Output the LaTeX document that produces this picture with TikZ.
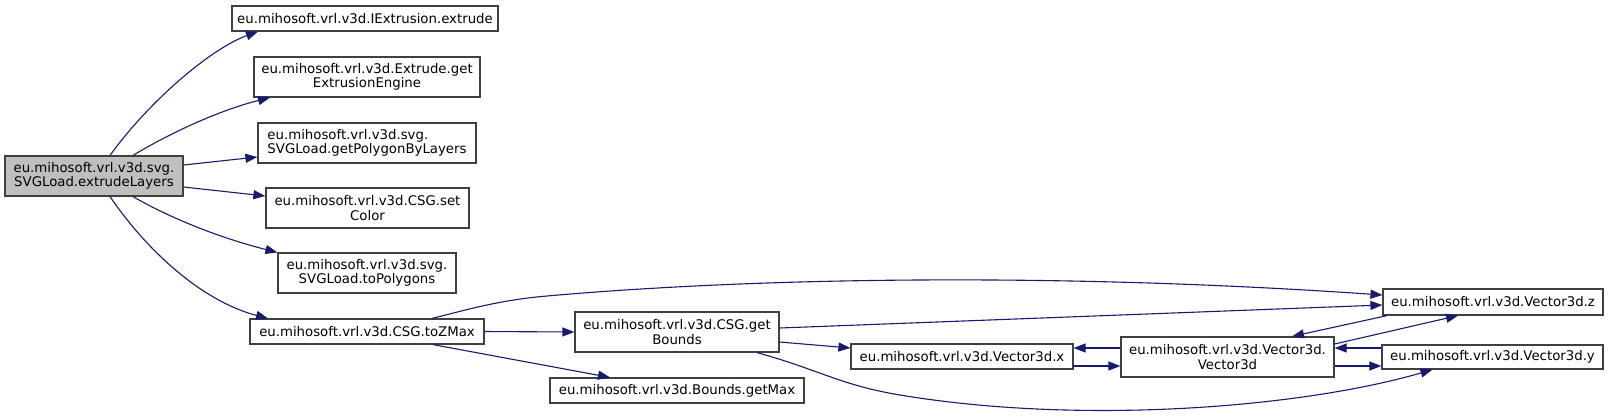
\documentclass[tikz,border=0pt]{standalone}
\usepackage{fontspec}
\setmainfont{DejaVu Sans}
\usetikzlibrary{arrows.meta}
\definecolor{edgeblue}{HTML}{191970}
\definecolor{boxline}{HTML}{404040}
\definecolor{rootfill}{HTML}{BFBFBF}
\begin{document}
\begin{tikzpicture}[x=1pt,y=-1pt,
  fn/.style={draw=boxline,line width=1.2pt,fill=white,inner sep=0pt,align=center,
    font=\fontsize{13.3}{14.5}\selectfont,minimum height=25pt},
  rootbox/.style={fn,fill=rootfill},
  call/.style={draw=edgeblue,line width=1.1pt,-{Triangle[length=12pt,width=9pt]},fill=none}]
\useasboundingbox (0,0) rectangle (1609,416);
\node[rootbox,minimum width=178pt,minimum height=40pt] (root) at (94,176) {eu.mihosoft.vrl.v3d.svg.\\SVGLoad.extrudeLayers};
\node[fn,minimum width=266pt] (n1) at (365,18.5) {eu.mihosoft.vrl.v3d.IExtrusion.extrude};
\node[fn,minimum width=226pt,minimum height=40pt] (n2) at (367,77) {eu.mihosoft.vrl.v3d.Extrude.get\\ExtrusionEngine};
\node[fn,minimum width=218pt,minimum height=40pt,align=left] (n3) at (367,143) {eu.mihosoft.vrl.v3d.svg.\\SVGLoad.getPolygonByLayers};
\node[fn,minimum width=203pt,minimum height=40pt] (n4) at (367.5,208) {eu.mihosoft.vrl.v3d.CSG.set\\Color};
\node[fn,minimum width=178pt,minimum height=40pt] (n5) at (367,273) {eu.mihosoft.vrl.v3d.svg.\\SVGLoad.toPolygons};
\node[fn,minimum width=234pt] (n6) at (367,331.5) {eu.mihosoft.vrl.v3d.CSG.toZMax};
\node[fn,minimum width=204pt,minimum height=40pt] (n7) at (677,332) {eu.mihosoft.vrl.v3d.CSG.get\\Bounds};
\node[fn,minimum width=254pt] (n8) at (677,390.5) {eu.mihosoft.vrl.v3d.Bounds.getMax};
\node[fn,minimum width=222pt] (n9) at (962,356.5) {eu.mihosoft.vrl.v3d.Vector3d.x};
\node[fn,minimum width=213pt,minimum height=40pt] (n10) at (1227.5,357) {eu.mihosoft.vrl.v3d.Vector3d.\\Vector3d};
\node[fn,minimum width=220pt,minimum height=26pt] (n11) at (1493,302) {eu.mihosoft.vrl.v3d.Vector3d.z};
\node[fn,minimum width=221pt,minimum height=24pt] (n12) at (1492.5,357) {eu.mihosoft.vrl.v3d.Vector3d.y};
% edges from root
\draw[call] ([xshift=16pt]root.north) .. controls (150,100) and (212,48) .. ([xshift=-107pt]n1.south);
\draw[call] ([xshift=39pt]root.north) .. controls (170,133) and (220,110) .. ([xshift=-97pt]n2.south);
\draw[call] ([yshift=11pt]root.east) -- ([yshift=-14pt]n3.west);
\draw[call] ([yshift=-11pt]root.east) -- ([yshift=12pt]n4.west);
\draw[call] ([xshift=39pt]root.south) .. controls (170,218) and (220,238) .. (n5.north west);
\draw[call] ([xshift=16pt]root.south) .. controls (150,255) and (205,302) .. ([xshift=-99pt]n6.north);
% edges from toZMax
\draw[call] (n6.east) -- (n7.west);
\draw[call] ([xshift=66pt]n6.south) -- ([xshift=-67pt]n8.north);
\draw[call] ([xshift=65pt]n6.north) .. controls (470,309) and (500,300) .. (547,296) .. controls (750,278) and (1050,272) .. ([yshift=7pt]n11.west);
% edges from getBounds
\draw[call] ([yshift=4pt]n7.east) -- ([yshift=-3pt]n11.west);
\draw[call] ([yshift=-10pt]n7.east) -- ([yshift=8.5pt]n9.west);
\draw[call] ([xshift=80pt]n7.south) .. controls (820,370) and (840,385) .. (900,395) .. controls (1080,425) and (1300,408) .. ([xshift=-60pt]n12.south);
% Vector3d edges
\draw[call] ([yshift=-9.5pt]n9.east) -- ([yshift=-9pt]n10.west);
\draw[call] ([yshift=9pt]n10.west) -- ([yshift=8.5pt]n9.east);
\draw[call] ([yshift=-9pt]n10.east) -- ([yshift=-9pt]n12.west);
\draw[call] ([yshift=9pt]n12.west) -- ([yshift=9pt]n10.east);
\draw[call] ([xshift=-106pt]n11.south) -- ([xshift=64.5pt]n10.north);
\draw[call] ([yshift=13pt]n10.east) -- ([xshift=-35pt]n11.south);
\end{tikzpicture}
\end{document}
